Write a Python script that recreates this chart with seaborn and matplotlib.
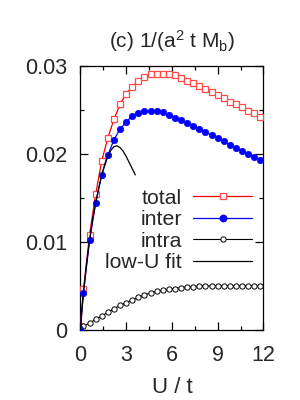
import matplotlib
matplotlib.use("Agg")
import matplotlib.pyplot as plt
from matplotlib.ticker import MultipleLocator
from matplotlib.lines import Line2D
import seaborn as sns
import pandas as pd

U = [0.0, 0.2, 0.6, 1.0, 1.4, 1.8, 2.2, 2.6, 3.0, 3.4, 3.8, 4.2, 4.6, 5.0, 5.4, 5.8,
     6.2, 6.6, 7.0, 7.4, 7.8, 8.2, 8.6, 9.0, 9.4, 9.8, 10.2, 10.6, 11.0, 11.4, 11.8]
total = [0.0004, 0.0046, 0.0108, 0.0154, 0.0192, 0.0218, 0.0239, 0.0256, 0.0268, 0.0276,
         0.0283, 0.0287, 0.0290, 0.0291, 0.0291, 0.0291, 0.0289, 0.0286, 0.0283, 0.0280,
         0.0277, 0.0274, 0.0270, 0.0267, 0.0263, 0.0259, 0.0256, 0.0253, 0.0249, 0.0246, 0.0242]
inter = [0.0001, 0.0042, 0.0102, 0.0144, 0.0176, 0.0198, 0.0216, 0.0228, 0.0236, 0.0243,
         0.0246, 0.0248, 0.0249, 0.0248, 0.0247, 0.0244, 0.0241, 0.0238, 0.0235, 0.0232,
         0.0228, 0.0225, 0.0221, 0.0218, 0.0214, 0.0210, 0.0206, 0.0203, 0.0200, 0.0196, 0.0193]
intra = [0.0000, 0.0004, 0.0008, 0.0012, 0.0016, 0.0020, 0.0024, 0.0028, 0.0031, 0.0034,
         0.0037, 0.0040, 0.0042, 0.0044, 0.0045, 0.0046, 0.0047, 0.0048, 0.0049, 0.0049,
         0.0050, 0.0050, 0.0050, 0.0050, 0.0050, 0.0050, 0.0050, 0.0050, 0.0050, 0.0050, 0.0050]
U_fit = [0.0, 0.1, 0.2, 0.4, 0.6, 0.8, 1.0, 1.2, 1.4, 1.6, 1.8, 2.0, 2.2, 2.4, 2.6, 2.8,
         3.0, 3.2, 3.4, 3.6]
fit = [0.0, 0.0023, 0.0042, 0.0074, 0.0102, 0.0125, 0.0144, 0.0161, 0.0176, 0.0188,
       0.0197, 0.0204, 0.0208, 0.0209, 0.0207, 0.0203, 0.0197, 0.0190, 0.0183, 0.0176]

labels = ["total", "inter", "intra", "low-U fit"]
x_ticks = [0, 3, 6, 9, 12]
y_ticks = [0, 0.01, 0.02, 0.03]
y_tick_labels = ["0", "0.01", "0.02", "0.03"]

sns.set_style("ticks")
plt.rcParams['font.family'] = ['Liberation Sans', 'DejaVu Sans']
plt.rcParams['mathtext.default'] = 'regular'

fig = plt.figure(figsize=(3, 4), dpi=100)
ax = fig.add_axes([0.268, 0.175, 0.610, 0.661])

df = pd.DataFrame({"U": U, "total": total, "inter": inter, "intra": intra})
dfit = pd.DataFrame({"U": U_fit, "fit": fit})

red_line = '#ee0000'
red_mk = '#ff4a4a'
blue = '#0000ff'

sns.lineplot(data=df, x="U", y="total", ax=ax, color=red_line, lw=0.9, marker='s',
             markersize=4.2, markerfacecolor='white', markeredgecolor=red_mk,
             markeredgewidth=0.9, zorder=3)
sns.lineplot(data=df, x="U", y="inter", ax=ax, color=blue, lw=0.9, marker='o',
             markersize=4.6, markerfacecolor=blue, markeredgecolor=blue,
             markeredgewidth=0.5, zorder=4)
sns.lineplot(data=df, x="U", y="intra", ax=ax, color='black', lw=0.8, marker='o',
             markersize=3.8, markerfacecolor='white', markeredgecolor='black',
             markeredgewidth=0.7, zorder=3)
sns.lineplot(data=dfit, x="U", y="fit", ax=ax, color='black', lw=0.9, zorder=5)

ax.set_xlim(0, 12)
ax.set_ylim(0, 0.03)
ax.set_xticks(x_ticks)
ax.set_xticklabels([str(v) for v in x_ticks])
ax.set_yticks(y_ticks)
ax.set_yticklabels(y_tick_labels)
ax.xaxis.set_minor_locator(MultipleLocator(1.5))
ax.yaxis.set_minor_locator(MultipleLocator(0.005))
ax.tick_params(which='both', direction='in', top=True, right=True, labelsize=15.5,
               width=0.9, color='black')
ax.tick_params(axis='x', which='both', pad=11)
ax.tick_params(axis='y', which='both', pad=9.5)
ax.tick_params(which='major', length=6)
ax.tick_params(which='minor', length=3.2)
for sp in ax.spines.values():
    sp.set_linewidth(0.9)
    sp.set_color('black')

ax.set_xlabel("U / t", fontsize=16, labelpad=8)
ax.set_ylabel("")
ax.set_title(r"(c) 1/(a$^{2}$ t M$_{b}$)", fontsize=15, pad=13)

handles = [
    Line2D([], [], color=red_line, lw=0.9, marker='s', markersize=4.2,
           markerfacecolor='white', markeredgecolor=red_mk, markeredgewidth=0.9),
    Line2D([], [], color=blue, lw=0.9, marker='o', markersize=4.6,
           markerfacecolor=blue, markeredgecolor=blue),
    Line2D([], [], color='black', lw=0.8, marker='o', markersize=3.8,
           markerfacecolor='white', markeredgecolor='black', markeredgewidth=0.7),
    Line2D([], [], color='black', lw=0.9),
]
ax.legend(handles, labels, loc='lower right', bbox_to_anchor=(0.937, 0.218),
          frameon=False, markerfirst=False, fontsize=15.3, handlelength=2.75,
          handletextpad=0.55, labelspacing=0.12, borderpad=0, borderaxespad=0,
          numpoints=1)

fig.savefig("out.png", dpi=100)
